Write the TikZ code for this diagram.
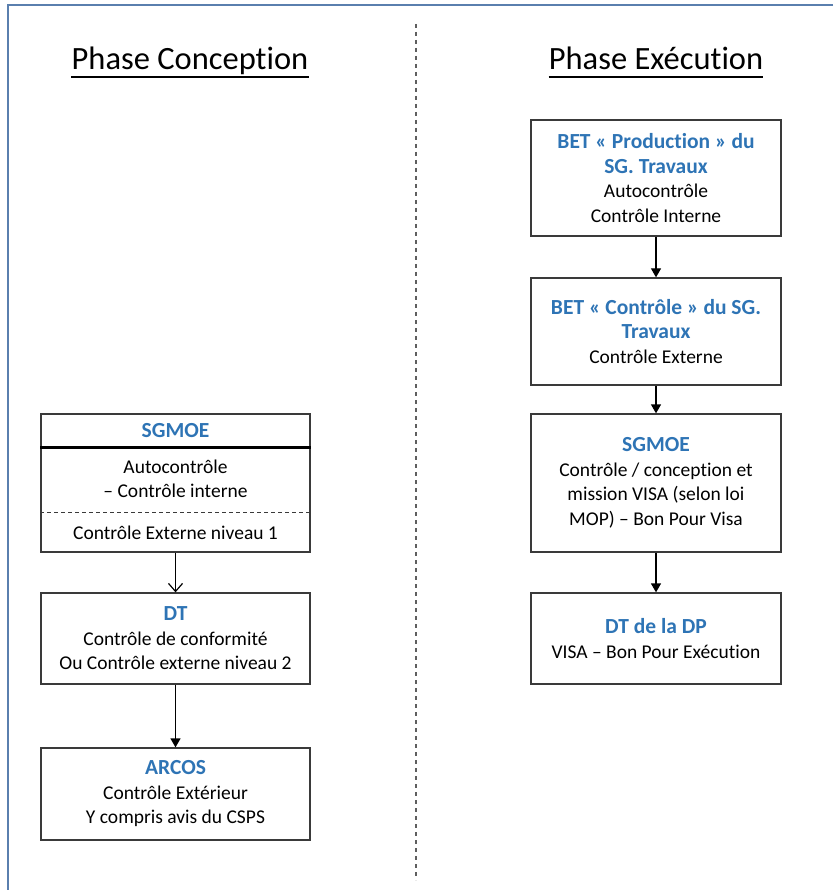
\documentclass[tikz,border=0pt]{standalone}
\usepackage{fontspec}
\setmainfont{Carlito}[Ligatures=NoCommon]
\usetikzlibrary{arrows.meta}
\definecolor{hdblue}{HTML}{2E74B5}
\definecolor{frameblue}{HTML}{5A7FAE}
\definecolor{boxline}{HTML}{3A3A3A}
\definecolor{divgray}{HTML}{5F5F5F}
\newcommand\hd[1]{{\fontsize{21.5}{24.5}\selectfont\textcolor{hdblue}{\textbf{#1}}}}
\newcommand\bodyfont{\fontsize{19.5}{24.5}\selectfont}

\begin{document}
\begin{tikzpicture}[x=1pt,y=-1pt,
  boxbase/.style={draw=boxline, line width=1.3pt, inner sep=0pt, align=center, font=\bodyfont},
  lbox/.style={boxbase, minimum width=269pt},
  rbox/.style={boxbase, minimum width=250pt},
  label/.style={inner sep=0pt, align=center, font=\bodyfont},
  title/.style={inner sep=0pt, font=\fontsize{32.5}{38}\selectfont},
  flow/.style={line width=1.3pt, -{Triangle[length=9pt,width=10pt]}},
  openflow/.style={line width=1.2pt, -{Straight Barb[length=8pt,width=14pt]}}]
\useasboundingbox (0,0) rectangle (833,890);

% page frame
\coordinate (fr1) at (833,5);
\coordinate (fr2) at (8,5);
\coordinate (fr3) at (8,890);
\draw[frameblue, line width=1.6pt] (fr1) -- (fr2) -- (fr3);

% phase divider
\coordinate (dv1) at (416,24);
\coordinate (dv2) at (416,880);
\draw[divgray, line width=1.2pt, dash pattern=on 4pt off 4pt] (dv1) -- (dv2);

% column titles
\node[title, anchor=base] (tc) at (190,70) {Phase Conception};
\node[title, anchor=base] (te) at (656,70) {Phase Exécution};
\draw[line width=2pt] ([yshift=-7.5pt]tc.base west) -- ([yshift=-7.5pt]tc.base east);
\draw[line width=2pt] ([yshift=-7.5pt]te.base west) -- ([yshift=-7.5pt]te.base east);

% design phase
\node[lbox, minimum height=138pt] (sg) at (175.5,483) {};
\node[label] (sgh) at (175.5,431) {\hd{SGMOE}};
\node[label] (sgb) at (175.5,479) {Autocontrôle\\– Contrôle interne};
\node[label] (sgf) at (175.5,533) {Contrôle Externe niveau 1};
\draw[line width=2.4pt] ([yshift=-34pt]sg.north west) -- ([yshift=-34pt]sg.north east);
\draw[boxline, line width=1pt, dash pattern=on 4pt off 3pt] ([yshift=-99pt]sg.north west) -- ([yshift=-99pt]sg.north east);

\node[lbox, minimum height=91pt] (dt) at (175.5,638.5) {\hd{DT}\\Contrôle de conformité\\Ou Contrôle externe niveau 2};
\node[lbox, minimum height=92pt] (ar) at (175.5,794) {\hd{ARCOS}\\Contrôle Extérieur\\Y compris avis du CSPS};

\draw[openflow] (sg) -- (dt);
\draw[flow] (dt) -- (ar);

% execution phase
\node[rbox, minimum height=116pt] (bp) at (656,178) {\hd{BET « Production » du}\\\hd{SG. Travaux}\\Autocontrôle\\Contrôle Interne};
\node[rbox, minimum height=107pt] (bc) at (656,331.5) {\hd{BET « Contrôle » du SG.}\\\hd{Travaux}\\Contrôle Externe};
\node[rbox, minimum height=138pt] (sr) at (656,483) {\hd{SGMOE}\\Contrôle / conception et\\mission VISA (selon loi\\MOP) – Bon Pour Visa};
\node[rbox, minimum height=91pt] (dp) at (656,638.5) {\hd{DT de la DP}\\VISA – Bon Pour Exécution};

\draw[flow] (bp) -- (bc);
\draw[flow] (bc) -- (sr);
\draw[flow] (sr) -- (dp);
\end{tikzpicture}
\end{document}
